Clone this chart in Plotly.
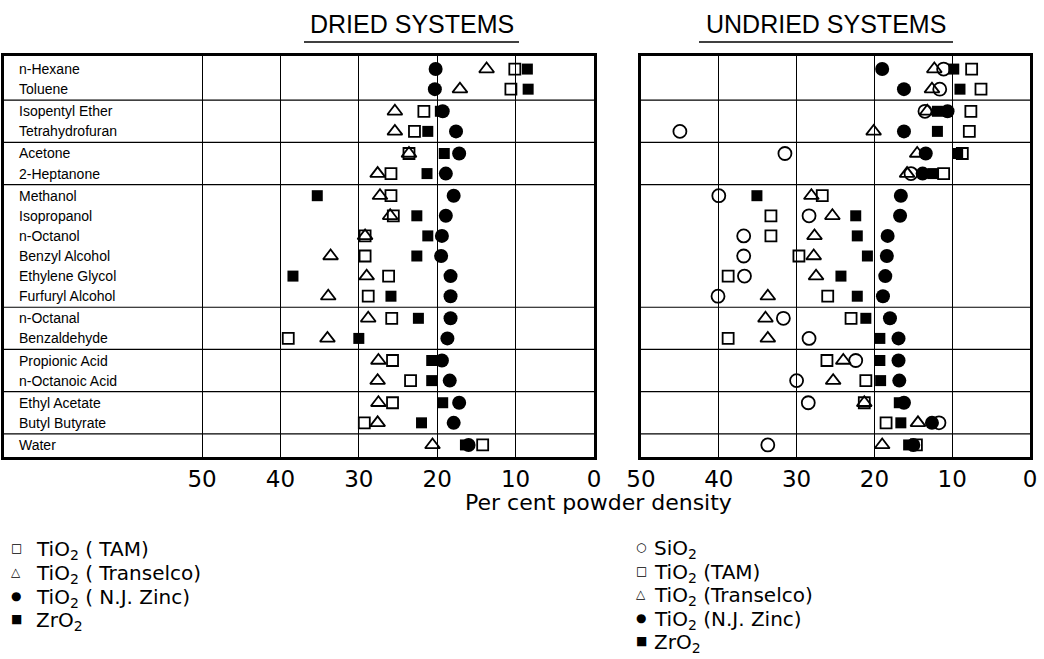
import plotly.graph_objects as go

compounds = ["n-Hexane", "Toluene", "Isopentyl Ether", "Tetrahydrofuran", "Acetone",
             "2-Heptanone", "Methanol", "Isopropanol", "n-Octanol", "Benzyl Alcohol",
             "Ethylene Glycol", "Furfuryl Alcohol", "n-Octanal", "Benzaldehyde",
             "Propionic Acid", "n-Octanoic Acid", "Ethyl Acetate", "Butyl Butyrate", "Water"]
groups = [0, 0, 1, 1, 2, 2, 3, 3, 3, 3, 3, 3, 4, 4, 5, 5, 6, 6, 7]

# Dried systems (per cent powder density)
d_tam = [10.1, 10.6, 21.7, 22.9, 23.6, 25.9, 25.9, 25.6, 29.2, 29.2, 26.2, 28.8, 25.8, 39.0, 25.7, 23.4, 25.7, 29.3, 14.2]
d_transelco = [13.7, 17.1, 25.4, 25.4, 23.6, 27.6, 27.3, 26.0, 29.2, 33.6, 29.0, 33.9, 28.8, 34.0, 27.5, 27.6, 27.5, 27.6, 20.6]
d_njzinc = [20.2, 20.3, 19.3, 17.6, 17.2, 18.9, 17.9, 18.9, 19.4, 19.5, 18.3, 18.3, 18.3, 18.7, 19.4, 18.4, 17.2, 17.9, 16.0]
d_zro2 = [8.5, 8.4, 19.6, 21.2, 19.1, 21.3, 35.3, 22.6, 21.2, 22.6, 38.4, 25.9, 22.4, 30.0, 20.7, 20.7, 19.3, 22.0, 16.4]

# Undried systems
u_sio2 = [11.1, 11.6, 13.5, 45.0, 31.5, 15.3, 40.0, 28.4, 36.8, 36.8, 36.7, 40.1, 31.7, 28.4, 22.4, 30.0, 28.5, 11.7, 33.7]
u_tam = [7.5, 6.3, 7.6, 7.8, 8.7, 11.1, 26.7, 33.3, 33.3, 29.7, 38.8, 26.0, 23.0, 38.8, 26.1, 21.1, 21.3, 18.5, 14.6]
u_transelco = [12.3, 12.6, 13.2, 20.1, 14.5, 15.8, 28.1, 25.4, 27.7, 27.8, 27.5, 33.7, 34.0, 33.7, 24.0, 25.3, 21.3, 14.4, 19.0]
u_njzinc = [19.0, 16.2, 10.6, 16.2, 13.4, 13.8, 16.6, 16.7, 18.3, 18.4, 18.6, 18.9, 18.0, 16.9, 16.9, 16.8, 16.2, 12.6, 15.0]
u_zro2 = [9.8, 9.0, 11.9, 11.9, 9.3, 12.5, 35.1, 22.4, 22.2, 20.9, 24.3, 22.2, 21.1, 19.3, 19.3, 19.2, 16.8, 16.6, 15.6]

tick_vals = [50, 40, 30, 20, 10, 0]
tick_text = ["50", "40", "30", "20", "10", "0"]

legend_left = ["TAM", "Transelco", "NJ", "ZrO2"]
legend_left_text = ["TiO<sub>2</sub> ( TAM)", "TiO<sub>2</sub> ( Transelco)",
                    "TiO<sub>2</sub> ( N.J. Zinc)", "ZrO<sub>2</sub>"]
legend_right = ["SiO2", "TAM", "Transelco", "NJ", "ZrO2"]
legend_right_text = ["SiO<sub>2</sub>", "TiO<sub>2</sub> (TAM)", "TiO<sub>2</sub> (Transelco)",
                     "TiO<sub>2</sub> (N.J. Zinc)", "ZrO<sub>2</sub>"]

# ---- layout helpers ----
W, H = 1044, 659
GAP = 0.1
ypos = [i + GAP * g for i, g in enumerate(groups)]
Y_TOP = -0.65
Y_BOT = ypos[-1] + 0.6
LEFT_MIN = 75.26

def px_x(p):
    return p / W

def px_y(p):
    return 1 - p / H

FONT_TXT = "Liberation Sans, Arial, sans-serif"
TITLE_FONT = "Liberation Sans, Arial, sans-serif"
GEO_FONT = "DejaVu Sans, sans-serif"

sym_style = {
    "SiO2": dict(symbol="circle-open", size=13, line=dict(width=1.8, color="black")),
    "TAM": dict(symbol="square-open", size=11, line=dict(width=1.8, color="black")),
    "Transelco": dict(symbol="triangle-up-open", size=13, line=dict(width=1.8, color="black")),
    "NJ": dict(symbol="circle", size=14, line=dict(width=0)),
    "ZrO2": dict(symbol="square", size=11, line=dict(width=0)),
}
glyph = {"SiO2": "○", "TAM": "□", "Transelco": "△", "NJ": "●", "ZrO2": "■"}

fig = go.Figure()

def add_series(key, vals, xa, ya):
    st = sym_style[key]
    fig.add_trace(go.Scatter(
        x=vals, y=ypos, mode="markers", xaxis=xa, yaxis=ya, showlegend=False,
        marker=dict(symbol=st["symbol"], size=st["size"], color="black", line=st["line"]),
        cliponaxis=False, hoverinfo="skip"))

# Dried panel
add_series("TAM", d_tam, "x", "y")
add_series("Transelco", d_transelco, "x", "y")
add_series("ZrO2", d_zro2, "x", "y")
add_series("NJ", d_njzinc, "x", "y")
# Undried panel
add_series("SiO2", u_sio2, "x2", "y2")
add_series("TAM", u_tam, "x2", "y2")
add_series("Transelco", u_transelco, "x2", "y2")
add_series("ZrO2", u_zro2, "x2", "y2")
add_series("NJ", u_njzinc, "x2", "y2")

ydom = [px_y(457), px_y(56)]
axis_common = dict(showline=True, mirror=True, linewidth=2.5, linecolor="black",
                   zeroline=False, ticks="", fixedrange=True, automargin=False)
xcommon = dict(axis_common, tickvals=tick_vals, ticktext=tick_text, showgrid=True,
               gridcolor="black", gridwidth=1,
               tickfont=dict(family=GEO_FONT, size=23, color="black"),
               ticklabelstandoff=0)
fig.update_layout(
    xaxis=dict(xcommon, domain=[px_x(4), px_x(594)], range=[LEFT_MIN, 0], anchor="y"),
    yaxis=dict(axis_common, domain=ydom, range=[Y_BOT, Y_TOP], showticklabels=False,
               showgrid=False, anchor="x"),
    xaxis2=dict(xcommon, domain=[px_x(641), px_x(1030)], range=[50, 0], anchor="y2"),
    yaxis2=dict(axis_common, domain=ydom, range=[Y_BOT, Y_TOP], showticklabels=False,
                showgrid=False, anchor="x2"),
)

shapes = []
seps = [(ypos[i] + ypos[i + 1]) / 2 for i in range(len(groups) - 1) if groups[i] != groups[i + 1]]
for s in seps:
    for xr, yr in [("x domain", "y"), ("x2 domain", "y2")]:
        shapes.append(dict(type="line", xref=xr, yref=yr, x0=0, x1=1, y0=s, y1=s,
                           line=dict(color="black", width=1.2)))
shapes.append(dict(type="line", xref="paper", yref="paper", x0=px_x(304), x1=px_x(519),
                   y0=px_y(42), y1=px_y(42), line=dict(color="black", width=1.5)))
shapes.append(dict(type="line", xref="paper", yref="paper", x0=px_x(699), x1=px_x(953),
                   y0=px_y(42), y1=px_y(42), line=dict(color="black", width=1.5)))

annotations = []
for c, yp in zip(compounds, ypos):
    annotations.append(dict(x=LEFT_MIN - 1.65, y=yp, xref="x", yref="y", text=c,
                            showarrow=False, xanchor="left", yanchor="middle",
                            font=dict(family=FONT_TXT, size=14, color="black")))
annotations.append(dict(x=px_x(412), y=px_y(24), xref="paper", yref="paper",
                        text="DRIED SYSTEMS", showarrow=False, xanchor="center", yanchor="middle",
                        font=dict(family=TITLE_FONT, size=25, color="black")))
annotations.append(dict(x=px_x(826), y=px_y(24), xref="paper", yref="paper",
                        text="UNDRIED SYSTEMS", showarrow=False, xanchor="center", yanchor="middle",
                        font=dict(family=TITLE_FONT, size=25, color="black")))
annotations.append(dict(x=px_x(598), y=px_y(502), xref="paper", yref="paper",
                        text="Per cent powder density", showarrow=False, xanchor="center",
                        yanchor="middle", font=dict(family=GEO_FONT, size=22, color="black")))

# legends (symbol glyph + label), stacked rows
def add_legend_block(keys, texts, sym_x, txt_x, y0, dy):
    for j, (k, t) in enumerate(zip(keys, texts)):
        yy = y0 + j * dy
        annotations.append(dict(x=px_x(sym_x), y=px_y(yy), xref="paper", yref="paper",
                                text=glyph[k], showarrow=False, xanchor="center",
                                yanchor="middle",
                                font=dict(family=GEO_FONT, size=12, color="black")))
        annotations.append(dict(x=px_x(txt_x), y=px_y(yy + 2), xref="paper", yref="paper",
                                text=t, showarrow=False, xanchor="left", yanchor="middle",
                                font=dict(family=GEO_FONT, size=20, color="black")))

add_legend_block(legend_left, legend_left_text, 16, 34, 548, 23.8)
add_legend_block(legend_right, legend_right_text, 641, 652, 547, 23.5)

fig.update_layout(
    width=W, height=H, margin=dict(l=0, r=0, t=0, b=0, autoexpand=False),
    paper_bgcolor="white", plot_bgcolor="white",
    shapes=shapes, annotations=annotations, showlegend=False,
)

fig.write_html("out.html", config={"displayModeBar": False},
               post_script="document.body.style.margin='0';document.body.style.overflow='hidden';")
